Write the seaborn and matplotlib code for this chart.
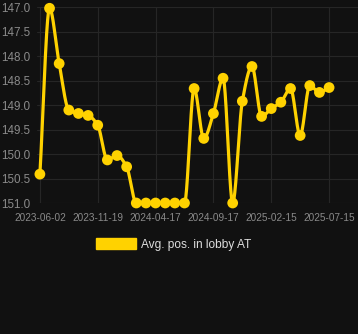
import numpy as np
import pandas as pd
import matplotlib
matplotlib.use("Agg")
import matplotlib.pyplot as plt
import seaborn as sns
from matplotlib.patches import Patch

values = [150.41, 147.02, 148.15, 149.10, 149.17, 149.21, 149.41, 150.12, 150.03, 150.26,
          151.0, 151.0, 151.0, 151.0, 151.0, 151.0,
          148.66, 149.68, 149.17, 148.45, 151.0, 148.92, 148.21, 149.23, 149.07, 148.94,
          148.66, 149.62, 148.60, 148.74, 148.64]
tick_positions = [0, 6, 12, 18, 24, 30]
tick_labels = ["2023-06-02", "2023-11-19", "2024-04-17", "2024-09-17", "2025-02-15", "2025-07-15"]
y_ticks = [147.0, 147.5, 148.0, 148.5, 149.0, 149.5, 150.0, 150.5, 151.0]
series_name = "Avg. pos. in lobby AT"

BG = "#111111"
GOLD = "#FFD200"
GRID = "#262626"
TICK = "#8a8a8a"


def pchip(x, y, xs):
    x = np.asarray(x, float); y = np.asarray(y, float)
    h = np.diff(x); d = np.diff(y) / h
    n = len(x); m = np.zeros(n)
    for k in range(1, n - 1):
        if d[k - 1] * d[k] > 0:
            w1 = 2 * h[k] + h[k - 1]; w2 = h[k] + 2 * h[k - 1]
            m[k] = (w1 + w2) / (w1 / d[k - 1] + w2 / d[k])
    m[0] = d[0]; m[-1] = d[-1]
    idx = np.clip(np.searchsorted(x, xs) - 1, 0, n - 2)
    t = (xs - x[idx]) / h[idx]
    h00 = 2 * t**3 - 3 * t**2 + 1; h10 = t**3 - 2 * t**2 + t
    h01 = -2 * t**3 + 3 * t**2; h11 = t**3 - t**2
    return h00 * y[idx] + h10 * h[idx] * m[idx] + h01 * y[idx + 1] + h11 * h[idx] * m[idx + 1]


sns.set_style("dark")
plt.rcParams["font.family"] = ["Liberation Sans", "DejaVu Sans"]

fig = plt.figure(figsize=(3.58, 3.34), dpi=100, facecolor=BG)
ax = fig.add_axes([37 / 358, (334 - 203) / 334, (358 - 37) / 358, (203 - 7.3) / 334])
ax.set_facecolor(BG)

xi = np.arange(len(values))
xs = np.linspace(0, len(values) - 1, 1200)
ys = pchip(xi, values, xs)
curve = pd.DataFrame({"x": xs, "y": ys})
pts = pd.DataFrame({"x": xi, "y": values})

sns.lineplot(data=curve, x="x", y="y", ax=ax, color=GOLD, linewidth=2.3, sort=False, clip_on=False, zorder=3)
sns.scatterplot(data=pts, x="x", y="y", ax=ax, color=GOLD, s=60, edgecolor="none", clip_on=False, zorder=4)

ax.set_xlim(-0.3, 33)
ax.set_ylim(151.0, 147.0)
ax.set_yticks(y_ticks)
ax.set_yticklabels([f"{v:.1f}" for v in y_ticks])
ax.set_xticks(tick_positions)
ax.set_xticklabels(tick_labels)
ax.grid(True, color=GRID, linewidth=0.8)
ax.set_axisbelow(True)
for s in ax.spines.values():
    s.set_visible(False)
ax.tick_params(axis="y", length=0, pad=5, labelsize=8.4, labelcolor=TICK)
ax.tick_params(axis="x", length=3, color=GRID, pad=4, labelsize=7.2, labelcolor=TICK)
ax.set_xlabel("")
ax.set_ylabel("")

handle = Patch(facecolor=GOLD, edgecolor=GOLD)
fig.legend([handle], [series_name], loc="center", bbox_to_anchor=(0.485, 0.268),
           frameon=False, fontsize=8.6, labelcolor="#dddddd",
           handlelength=3.4, handleheight=1.0, handletextpad=0.45)

fig.savefig("out.png", dpi=100, facecolor=BG)
